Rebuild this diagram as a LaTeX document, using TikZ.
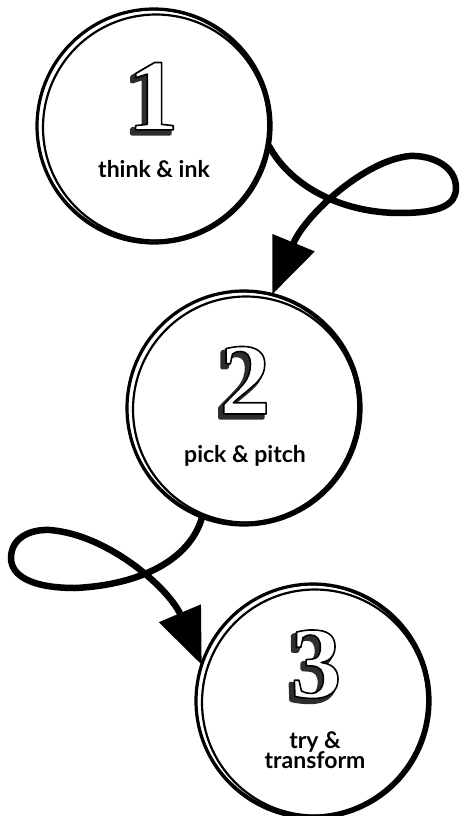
\documentclass[tikz,border=0pt]{standalone}
\usepackage{fontspec}
\setmainfont{Lato}
\newfontfamily\numfont{Liberation Serif}
\usetikzlibrary{arrows.meta}

% one glyph drawn as an extruded, outlined numeral
\newcommand\sketchdigit[1]{%
  \rlap{\kern-3.6pt\raisebox{-3.6pt}{\color{black!82}\special{pdf:literal direct 2 Tr 4.2 w 1 j}#1\special{pdf:literal direct 0 Tr 1 w}}}%
  {\color{white}\special{pdf:literal direct 2 Tr 1.6 w 1 j 0 G}#1\special{pdf:literal direct 0 Tr 1 w}}%
}

\begin{document}
\begin{tikzpicture}[x=1pt,y=-1pt,
  ringmain/.style={circle,draw,line width=3.2pt,minimum size=234pt,inner sep=0pt,outer sep=0pt},
  ringa/.style={line width=2.2pt},
  ringb/.style={line width=1.8pt},
  digitfont/.style={font=\numfont\bfseries\fontsize{102}{102}\selectfont,inner sep=0pt},
  lbl/.style={font=\fontsize{23}{22}\selectfont\bfseries,inner sep=0pt,anchor=base,text=black},
  loopline/.style={line width=6.5pt,line cap=round,-{Triangle[length=56pt,width=44pt]}},
]
\useasboundingbox (0,0) rectangle (463,816);
\fill[white] (0,0) rectangle (463,816);

% circles
\node[ringmain] (c1) at (154,126) {};
\node[ringmain] (c2) at (244,408) {};
\node[ringmain] (c3) at (313,701) {};
\foreach \c in {c1,c2,c3}{
  \draw[ringa] ([shift={(2,1.5)}]\c.center) circle[radius=113];
  \draw[ringb] ([shift={(-1.5,-1)}]\c.center) circle[radius=115.5];
}

% connectors
\draw[loopline] (c1.-10) .. controls (290,185) and (340,213) .. (400,213)
  .. controls (440,213) and (456,205) .. (456,188)
  .. controls (456,165) and (430,155) .. (410,156)
  .. controls (365,160) and (305,215) .. (c2.76);

\draw[loopline] (c2.-111) .. controls (190,560) and (140,585) .. (75,588)
  .. controls (30,588) and (11,575) .. (11,558)
  .. controls (11,538) and (30,529) .. (50,530)
  .. controls (110,535) and (170,590) .. (c3.162);

% digits
\node[digitfont] (d1) at (153,98) {\sketchdigit{1}};
\node[digitfont] (d2) at (245,382) {\sketchdigit{2}};
\node[digitfont] (d3) at (316,666) {\sketchdigit{3}};

% labels
\node[lbl] (t1) at (154,177) {think \& ink};
\node[lbl] (t2) at (245,462) {pick \& pitch};
\node[lbl] (t3a) at (315,748) {try \&};
\node[lbl] (t3b) at (315,768) {transform};
\end{tikzpicture}
\end{document}
